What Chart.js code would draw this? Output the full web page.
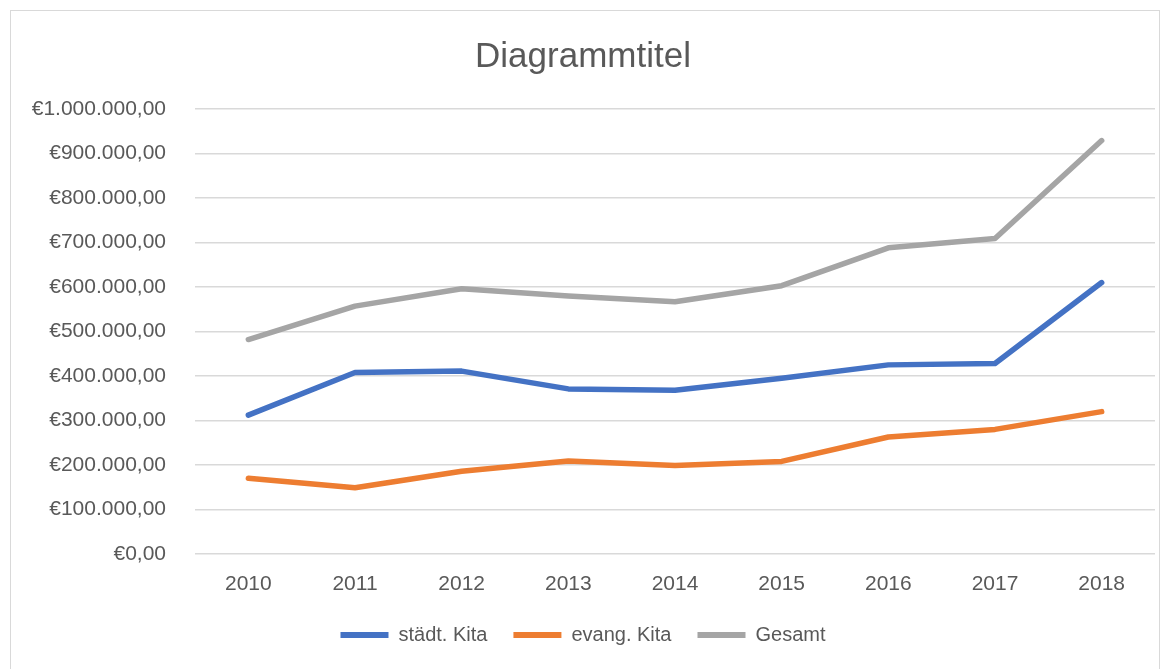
<!DOCTYPE html>
<html>
<head>
<meta charset="utf-8">
<script src="https://cdn.jsdelivr.net/npm/chart.js@4/dist/chart.umd.min.js"></script>
<style>
  body { margin: 0; background: #fff; }
  #box { position: absolute; left: 10px; top: 10px; width: 1148px; height: 670px; border: 1px solid #d9d9d9; background: #fff; }
</style>
</head>
<body>
<div id="box"><canvas id="myChart" width="1148" height="658"></canvas></div>
<script>
// Jahre (Kategorien)
var years = ['2010', '2011', '2012', '2013', '2014', '2015', '2016', '2017', '2018'];

// Werte
var staedtKita = [312000, 408000, 411000, 371000, 368000, 395000, 425000, 428000, 610000];
var evangKita = [170000, 149000, 186000, 209000, 199000, 208000, 263000, 280000, 320000];
var gesamt = [482000, 557000, 596000, 580000, 567000, 603000, 688000, 709000, 929000];

var seriesNames = ['städt. Kita', 'evang. Kita', 'Gesamt'];
var seriesColors = ['#4472C4', '#ED7D31', '#A5A5A5'];

var fontFamily = '"Liberation Sans", Arial, sans-serif';
var textColor = '#595959';

// Euro-Format wie in Excel: €1.000.000,00
function euro(v) {
	var s = Math.round(v).toString().replace(/\B(?=(\d{3})+(?!\d))/g, '.');
	return '€' + s + ',00';
}

function makeDataset(i, values) {
	return {
		label: seriesNames[i],
		data: values,
		borderColor: seriesColors[i],
		backgroundColor: seriesColors[i],
		borderWidth: 5.5,
		borderCapStyle: 'round',
		borderJoinStyle: 'round',
		pointRadius: 0,
		tension: 0,
		fill: false
	};
}

var ctx = document.getElementById('myChart').getContext('2d');

var myLineChart = new Chart(ctx, {
	type: 'line',
	data: {
		labels: years,
		datasets: [
			makeDataset(0, staedtKita),
			makeDataset(1, evangKita),
			makeDataset(2, gesamt)
		]
	},
	options: {
		responsive: false,
		animation: false,
		layout: { padding: { left: 0, right: 4, top: 25, bottom: 14 } },
		plugins: {
			tooltip: { enabled: false },
			title: {
				display: true,
				text: 'Diagrammtitel',
				color: textColor,
				font: { family: fontFamily, size: 35, weight: 'normal' },
				padding: { top: 0, bottom: 31 }
			},
			legend: {
				position: 'bottom',
				labels: {
					color: textColor,
					font: { family: fontFamily, size: 20 },
					boxWidth: 48,
					boxHeight: 6,
					padding: 26,
					generateLabels: function(chart) {
						return chart.data.datasets.map(function(ds, i) {
							return {
								text: ds.label,
								fillStyle: ds.borderColor,
								strokeStyle: ds.borderColor,
								lineWidth: 0,
								fontColor: textColor,
								datasetIndex: i
							};
						});
					}
				}
			}
		},
		scales: {
			x: {
				offset: true,
				afterFit: function(scale) { scale.height = 45; },
				grid: { display: false, drawTicks: false },
				border: { display: false },
				ticks: {
					color: textColor,
					font: { family: fontFamily, size: 21 },
					padding: 18,
					maxRotation: 0
				}
			},
			y: {
				min: 0,
				max: 1000000,
				afterFit: function(scale) { scale.width = 184; },
				grid: { color: '#d9d9d9', lineWidth: 1.5, drawTicks: false },
				border: { display: false },
				ticks: {
					stepSize: 100000,
					color: textColor,
					font: { family: fontFamily, size: 21 },
					padding: 29,
					callback: function(v) { return euro(v); }
				}
			}
		}
	}
});
</script>
</body>
</html>
